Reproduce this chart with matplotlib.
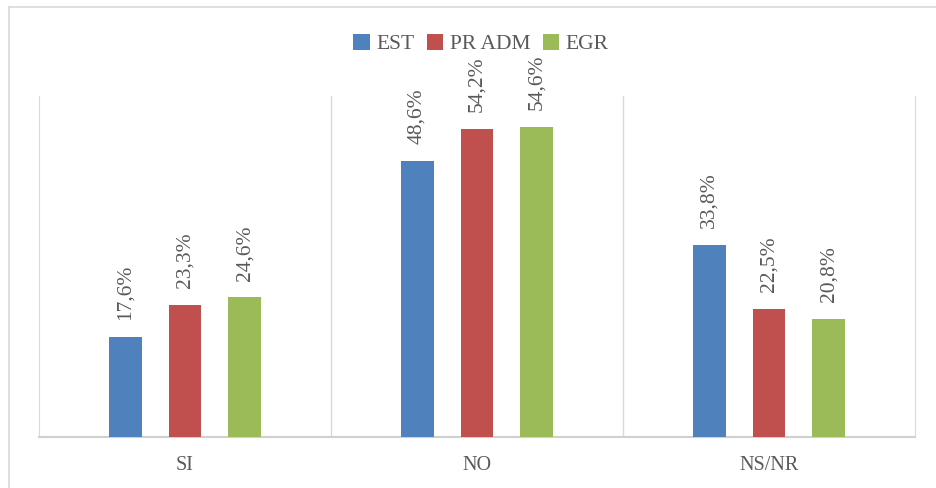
import numpy as np
import matplotlib.pyplot as plt
from matplotlib.lines import Line2D

categories = ['SI', 'NO', 'NS/NR']
series = ['EST', 'PR ADM', 'EGR']
est = [17.6, 48.6, 33.8]
pr_adm = [23.3, 54.2, 22.5]
egr = [24.6, 54.6, 20.8]
colors = ['#4F81BD', '#C0504D', '#9BBB59']

plt.rcParams['font.family'] = ['Liberation Serif', 'DejaVu Serif']
txt = '#595959'

fig = plt.figure(figsize=(9.36, 4.88), dpi=100)
ax = fig.add_axes([39/936, 1-437/488, 876/936, 341/488])

x = np.arange(len(categories))
w = 0.113
step = 0.205
for i, (name, vals) in enumerate(zip(series, [est, pr_adm, egr])):
    bars = ax.bar(x + (i-1)*step, vals, w, color=colors[i], label=name, zorder=3)
    for b, v in zip(bars, vals):
        ax.annotate(f'{v:.1f}%'.replace('.', ','), (b.get_x() + b.get_width()/2, v),
                    xytext=(0, 12), textcoords='offset points',
                    rotation=90, ha='center', va='bottom', color=txt, fontsize=15.5)

ax.set_xlim(-0.5, 2.5)
ax.set_ylim(0, 60)
ax.set_yticks([])
ax.set_xticks(x)
ax.set_xticklabels(categories, fontsize=14.5, color=txt)
ax.tick_params(axis='x', length=0, pad=14)
for b in [0.5, 1.5]:
    ax.axvline(b, color='#d9d9d9', lw=1, zorder=1)
ax.spines['top'].set_visible(False)
for s in ['left', 'right']:
    ax.spines[s].set_color('#d9d9d9')
ax.spines['bottom'].set_color('#d0d0d0')
ax.spines['bottom'].set_linewidth(1.5)

fig.legend(loc='center', bbox_to_anchor=(481/936, 1-44/488), ncol=3, frameon=False,
           fontsize=15.5, handlelength=0.75, handleheight=0.75, handletextpad=0.3,
           columnspacing=0.6, labelcolor=txt)

fig.add_artist(Line2D([9/936, 1], [1-7/488, 1-7/488], color='#d9d9d9', lw=1.2))
fig.add_artist(Line2D([9/936, 9/936], [0, 1-7/488], color='#d9d9d9', lw=1.2))

fig.savefig('out.png', dpi=100)
